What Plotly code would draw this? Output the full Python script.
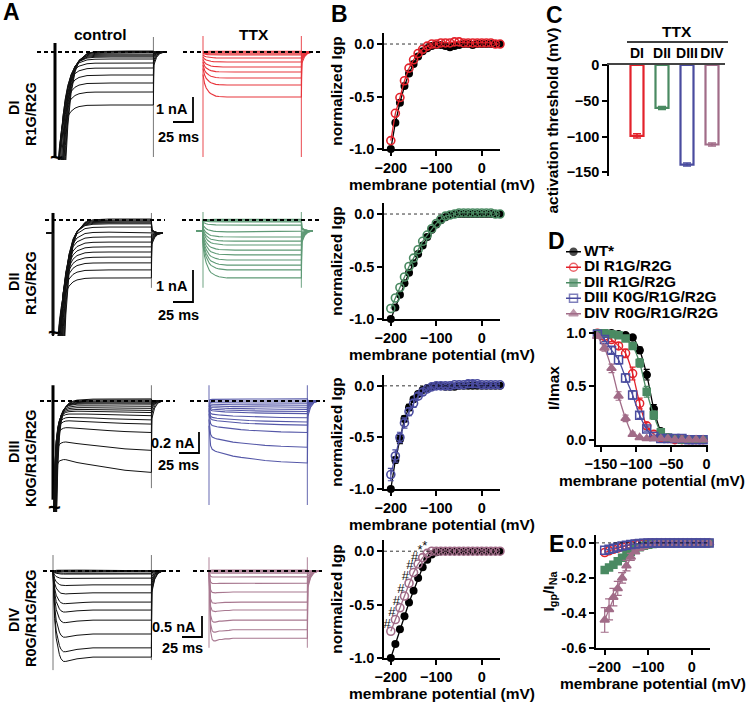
import plotly.graph_objects as go

W, H = 747, 704
FAM = "Liberation Sans, Arial, Helvetica, sans-serif"
RED, GREEN, BLUE, MAUVE = "#e3222b", "#4a8a62", "#4a4c9f", "#a16c88"
TTX_COL = ["#e8363d", "#5f9a76", "#5558a8", "#a87890"]

# ---------------- DATA ----------------
# Panel A: sweeps (nA). Steady-state level of every sweep, Na transient peak (control), shared kinetics
A_rows = ["DI", "DII", "DIII", "DIV"]
A_mut = ["R1G/R2G", "R1G/R2G", "K0G/R1G/R2G", "R0G/R1G/R2G"]
A_scale_nA = [1, 1, 0.2, 0.5]
A_scale_ms = 25
A_step_ms = 123
A_t = [0, 1, 2, 4, 6, 8, 10, 13, 16, 20, 25, 30, 40, 50, 70, 90, 123]
A_tail_t = [0, 0.5, 4, 8, 14]
A_tail_f = [1, 0.25, 0.1, 0.03, 0]
na_decay_slow = [1, 0.87, 0.75, 0.56, 0.42, 0.32, 0.24, 0.156, 0.1, 0.057, 0.028, 0.014, 0.0033, 0.0008, 0, 0, 0]
na_decay_fast = [1, 0.55, 0.32, 0.14, 0.07, 0.04, 0.025, 0.014, 0.008, 0.004, 0.002, 0.001, 0.0005, 0, 0, 0, 0]
no_decay = [0] * 17

# holding current outside the step (nA): control, TTX
hold_ctrl = [0, -0.41, 0, 0]
hold_ttx = [0, -0.34, 0, 0]

ctrl_DI_levels = [0.04, 0.02, 0.0, -0.04, -0.08, -0.12, -0.16, -0.20, -0.28, -0.44, -0.64, -0.92, -1.24, -1.60, -2.12]
ctrl_DI_peaks = [-30, -27, -24, -21, -19, -17, -15, -13, -11, -9, -8, -7, -6, -5, -4.5]
ttx_DI_levels = [0.03, 0.0, -0.04, -0.08, -0.12, -0.24, -0.40, -0.60, -0.80, -1.04, -1.32, -1.80]

ctrl_DII_levels = [0.03, 0.0, -0.03, -0.06, -0.09, -0.12, -0.22, -0.38, -0.53, -0.69, -0.84, -1.00, -1.16, -1.34, -1.56, -1.81]
ctrl_DII_peaks = [-30, -27, -24, -21, -19, -17, -15, -13, -11, -10, -9, -8, -7, -6, -5, -4.5]
ttx_DII_levels = [0.02, 0.0, -0.03, -0.06, -0.16, -0.37, -0.53, -0.66, -0.78, -0.94, -1.09, -1.25, -1.41, -1.56, -1.81]

ctrl_DIII_levels = [0.02, 0.01, 0.0, -0.01, -0.02, -0.03, -0.05, -0.07, -0.09, -0.11, -0.14, -0.18, -0.22, -0.30, -0.47, -0.68]
ctrl_DIII_peaks = [-9, -8, -7, -6, -5, -4.5, -4, -3.5, -3, -2.5, -2, -1.8, -1.6, -1.4, -1.2, -1.0]
ttx_DIII_levels = [0.02, 0.0, -0.02, -0.04, -0.06, -0.08, -0.10, -0.12, -0.16, -0.20, -0.23, -0.30, -0.44, -0.59]

ctrl_DIV_levels = [0.02, 0.0, -0.02, -0.05, -0.07, -0.17, -0.33, -0.52, -0.74, -0.93, -1.17, -1.50, -1.83, -2.05]
ctrl_DIV_peaks = [0] * 14
ttx_DIV_levels = [0.02, 0.0, -0.02, -0.05, -0.14, -0.29, -0.50, -0.74, -0.93, -1.17, -1.40, -1.60]

# fraction of steady level reached at each A_t sample
kin_ctrl_DI = [0.6, 0.8, 0.9, 0.96, 0.98, 1, 1, 1, 1, 1, 1, 1, 1, 1, 1, 1, 1]
kin_ttx_DI = [0.5, 0.62, 0.7, 0.8, 0.86, 0.9, 0.93, 0.96, 0.98, 0.99, 1, 1, 1, 1, 1, 1, 1]
kin_ctrl_DII = [0.6, 0.8, 0.9, 0.96, 0.98, 1, 1, 1, 1, 1, 1, 1, 1, 1, 1, 1, 1]
kin_ttx_DII = [0.45, 0.55, 0.63, 0.74, 0.82, 0.87, 0.91, 0.94, 0.96, 0.98, 0.99, 1, 1, 1, 1, 1, 1]
kin_ctrl_DIII = [0.3, 0.6, 0.7, 0.75, 0.77, 0.78, 0.79, 0.8, 0.81, 0.83, 0.85, 0.86, 0.88, 0.9, 0.94, 0.97, 1.0]
kin_ttx_DIII = [0.4, 0.65, 0.72, 0.78, 0.8, 0.81, 0.82, 0.83, 0.84, 0.86, 0.88, 0.89, 0.91, 0.93, 0.96, 0.98, 1.0]
kin_ctrl_DIV = [0, 0.35, 0.55, 0.78, 0.9, 0.97, 1.02, 1.05, 1.05, 1.04, 1.03, 1.02, 1.01, 1.0, 1.0, 1.0, 1.0]
kin_ttx_DIV = [0, 0.7, 0.9, 1.02, 1.04, 1.04, 1.03, 1.02, 1.02, 1.01, 1.01, 1.0, 1.0, 1.0, 1.0, 1.0, 1.0]

# capacitive artefacts at step on/off (nA extent: top, bottom)
cap_ctrl_on = [(0.36, -4.2), (0.22, -3.6), (0.15, -0.94), (0.38, -2.36)]
cap_ctrl_off = [(0.6, -4.2), (0.22, -2.12), (0.15, -0.83), (0.38, -2.12)]
cap_ttx = [(0.64, -4.2), (0.25, -2.12), (0.15, -0.99), (0.33, -1.83)]

# Panel B: normalized Igp vs membrane potential
vm_b = [-200, -190, -180, -170, -160, -150, -140, -130, -120, -110, -100, -90, -80, -70, -60,
        -50, -40, -30, -20, -10, 0, 10, 20, 30, 40]
wt_b1 = [-1.00, -0.75, -0.56, -0.40, -0.28, -0.19, -0.12, -0.07, -0.04, -0.02, -0.01, -0.01, -0.02, -0.03, -0.02,
         -0.01, 0.00, 0.00, -0.01, 0.00, 0.00, 0.00, 0.00, 0.00, 0.00]
di_b1 = [-0.92, -0.66, -0.51, -0.35, -0.23, -0.15, -0.09, -0.05, -0.02, 0.00, 0.00, 0.01, 0.01, 0.01, 0.02,
         0.02, 0.01, 0.01, 0.01, 0.01, 0.01, 0.01, 0.01, 0.00, 0.00]
wt_b2 = [-1.00, -0.89, -0.77, -0.66, -0.56, -0.47, -0.38, -0.30, -0.22, -0.15, -0.10, -0.06, -0.03, -0.01, 0.00,
         0.00, 0.00, 0.00, 0.00, 0.00, 0.00, 0.00, 0.00, 0.00, 0.00]
dii_b2 = [-0.90, -0.80, -0.70, -0.60, -0.50, -0.42, -0.34, -0.26, -0.20, -0.14, -0.09, -0.05, -0.02, -0.01, 0.00,
          0.01, 0.01, 0.01, 0.01, 0.01, 0.01, 0.01, 0.01, 0.00, 0.00]
wt_b3 = [-1.00, -0.72, -0.52, -0.32, -0.21, -0.13, -0.08, -0.04, -0.02, -0.01, 0.00, 0.00, -0.01, -0.01, -0.01,
         0.00, 0.00, 0.00, 0.00, 0.00, 0.00, 0.00, 0.00, 0.00, 0.00]
wt_b3_err = [0.0, 0.03, 0.04, 0.03, 0.03, 0.02, 0.02, 0.01, 0.01, 0.01, 0, 0, 0.01, 0.01, 0.01,
             0, 0, 0, 0, 0, 0, 0.01, 0.01, 0.01, 0.01]
diii_b3 = [-0.86, -0.68, -0.50, -0.36, -0.25, -0.17, -0.10, -0.06, -0.03, -0.01, 0.00, 0.00, 0.00, 0.00, 0.01,
           0.01, 0.01, 0.02, 0.02, 0.02, 0.01, 0.01, 0.01, 0.01, 0.01]
diii_b3_err = [0.06, 0.06, 0.05, 0.05, 0.04, 0.04, 0.03, 0.03, 0.02, 0.02, 0.02, 0.02, 0.02, 0.02, 0.02,
               0.02, 0.02, 0.03, 0.03, 0.02, 0.02, 0.02, 0.02, 0.02, 0.02]
wt_b4 = [-1.00, -0.87, -0.73, -0.61, -0.48, -0.37, -0.25, -0.15, -0.08, -0.03, -0.01, 0.00, 0.00, 0.00, 0.00,
         0.00, 0.00, 0.00, 0.00, 0.00, 0.00, 0.00, 0.00, 0.00, 0.00]
div_b4 = [-0.75, -0.64, -0.53, -0.42, -0.30, -0.20, -0.12, -0.06, -0.02, 0.00, 0.00, 0.00, 0.00, 0.00, 0.00,
          0.00, 0.00, 0.00, 0.00, 0.00, 0.00, 0.00, 0.00, 0.00, 0.00]
div_b4_sig = ["#", "#", "#", "#", "#", "#", "#", "*", "*", "", "", "", "", "", "",
              "", "", "", "", "", "", "", "", "", ""]

# Panel C: activation threshold (mV)
c_labels = ["DI", "DII", "DIII", "DIV"]
c_vals = [-99, -60, -139, -111]
c_err = [3, 2, 2, 2]

# Panel D: I/Imax
vm_d = [-155, -145, -135, -125, -115, -105, -95, -85, -75, -65, -55, -45, -35, -25, -15, -5]
wt_d = [1.00, 1.00, 1.00, 0.99, 0.98, 0.96, 0.84, 0.61, 0.29, 0.08, 0.02, 0.01, 0.00, 0.00, 0.00, 0.00]
wt_d_err = [0, 0, 0, 0, 0, 0.01, 0.03, 0.05, 0.04, 0.02, 0.01, 0, 0, 0, 0, 0]
di_d = [1.00, 0.97, 0.94, 0.88, 0.81, 0.62, 0.34, 0.13, 0.05, 0.02, 0.01, 0.00, 0.00, 0.00, 0.00, 0.00]
di_d_err = [0, 0.01, 0.02, 0.03, 0.04, 0.06, 0.05, 0.03, 0.02, 0.01, 0, 0, 0, 0, 0, 0]
dii_d = [1.00, 1.00, 0.99, 0.98, 0.95, 0.88, 0.72, 0.45, 0.23, 0.07, 0.02, 0.01, 0.00, 0.00, 0.00, 0.00]
dii_d_err = [0, 0, 0, 0.01, 0.02, 0.03, 0.04, 0.05, 0.04, 0.02, 0.01, 0, 0, 0, 0, 0]
diii_d = [0.99, 0.94, 0.84, 0.75, 0.58, 0.42, 0.23, 0.10, 0.03, 0.01, 0.01, 0.01, 0.01, 0.00, 0.00, 0.00]
diii_d_err = [0.01, 0.02, 0.03, 0.04, 0.04, 0.04, 0.03, 0.02, 0.01, 0, 0, 0, 0, 0, 0, 0]
div_d = [0.97, 0.86, 0.67, 0.41, 0.20, 0.05, 0.02, 0.01, 0.01, 0.01, 0.01, 0.00, 0.00, 0.00, 0.00, 0.00]
div_d_err = [0.02, 0.03, 0.04, 0.04, 0.03, 0.02, 0.01, 0, 0, 0, 0, 0, 0, 0, 0, 0]
legend_d = ["WT*", "DI R1G/R2G", "DII R1G/R2G", "DIII K0G/R1G/R2G", "DIV R0G/R1G/R2G"]

# Panel E: Igp / INa
vm_e = vm_b
di_e = [-0.055, -0.045, -0.037, -0.030, -0.022, -0.016, -0.011, -0.007, -0.005, -0.003, -0.002, -0.001, 0, 0, 0,
        0, 0, 0, 0, 0, 0, 0, 0, 0, 0]
dii_e = [-0.155, -0.140, -0.125, -0.105, -0.085, -0.065, -0.050, -0.035, -0.025, -0.016, -0.010, -0.007, -0.005,
         -0.003, -0.002, -0.001, 0, 0, 0, 0, 0, 0, 0, 0, 0]
diii_e = [-0.042, -0.036, -0.030, -0.024, -0.018, -0.013, -0.009, -0.006, -0.004, -0.002, -0.001, 0, 0, 0, 0,
          0, 0, 0, 0, 0, 0, 0, 0, 0, 0]
div_e = [-0.44, -0.38, -0.31, -0.26, -0.20, -0.13, -0.08, -0.05, -0.03, -0.02, -0.01, -0.005, 0, 0, 0,
         0, 0, 0, 0, 0, 0, 0, 0, 0, 0]
div_e_err = [0.07, 0.06, 0.05, 0.04, 0.03, 0.03, 0.02, 0.01, 0.01, 0, 0, 0, 0, 0, 0,
             0, 0, 0, 0, 0, 0, 0, 0, 0, 0]

# ---------------- LAYOUT HELPERS ----------------
def dom_x(a, b):
    return [a / W, b / W]


def dom_y(top, bot):
    return [1 - bot / H, 1 - top / H]


def ids(i):
    return ("x" if i == 1 else f"x{i}", "y" if i == 1 else f"y{i}")


def keys(i):
    return ("xaxis" if i == 1 else f"xaxis{i}", "yaxis" if i == 1 else f"yaxis{i}")


def f_(size):
    return dict(family=FAM, size=size, color="black", weight="bold")


def ax_style(**kw):
    d = dict(showline=True, linecolor="black", linewidth=1.6, ticks="outside", ticklen=5,
             tickwidth=1.5, tickcolor="black", showgrid=False, zeroline=False, automargin=False,
             tickfont=f_(14.5), mirror=False)
    d.update(kw)
    return d


fig = go.Figure()
lay = dict(width=W, height=H, margin=dict(l=0, r=0, t=0, b=0), template="none",
           paper_bgcolor="white", plot_bgcolor="rgba(0,0,0,0)", showlegend=False,
           font=dict(family=FAM, color="black"), barmode="overlay")
annots = []
shapes = []


def ann(text, px, py, size, angle=0, xanchor="center", yanchor="middle", color="black"):
    annots.append(dict(text=text, x=px / W, y=1 - py / H, xref="paper", yref="paper", showarrow=False,
                       font=dict(family=FAM, size=size, color=color, weight="bold"), textangle=angle,
                       xanchor=xanchor, yanchor=yanchor))


# ---------------- PANEL A ----------------
PX_PER_MS = 0.8
A_GEOM = [
    dict(y0=52, ppn=25, top=28, bot=160, xc=55, xt=203, dc=(37, 170), dt=(183, 320), bar=(193, 122),
         tilde=(56, 157), lab=(108, 114), nad=(-3, 0), msd=(-15, 15)),
    dict(y0=220, ppn=32, top=198, bot=336, xc=53, xt=203, dc=(45, 165), dt=(182, 320), bar=(193, 302),
         tilde=(54, 332), lab=(282, 283), nad=(-3, 0), msd=(-15, 13)),
    dict(y0=401, ppn=105, top=372, bot=512, xc=53, xt=209, dc=(40, 175), dt=(190, 325), bar=(199, 453),
         tilde=(54, 507), lab=(452, 458), nad=(-2, 0), msd=(-21, 12)),
    dict(y0=571, ppn=42, top=545, bot=682, xc=53, xt=209, dc=(43, 180), dt=(193, 322), bar=(202, 637),
         tilde=None, lab=(620, 618), nad=(-4, 0), msd=(-20, 11)),
]
ctrl_levels = [ctrl_DI_levels, ctrl_DII_levels, ctrl_DIII_levels, ctrl_DIV_levels]
ctrl_peaks = [ctrl_DI_peaks, ctrl_DII_peaks, ctrl_DIII_peaks, ctrl_DIV_peaks]
ctrl_decay = [na_decay_slow, na_decay_slow, na_decay_fast, no_decay]
ttx_levels = [ttx_DI_levels, ttx_DII_levels, ttx_DIII_levels, ttx_DIV_levels]
kin_ctrl = [kin_ctrl_DI, kin_ctrl_DII, kin_ctrl_DIII, kin_ctrl_DIV]
kin_ttx = [kin_ttx_DI, kin_ttx_DII, kin_ttx_DIII, kin_ttx_DIV]


def sweeps(levels, peaks, kin, dec, hold):
    xs, ys = [], []
    for lev, pk in zip(levels, peaks):
        if hold != 0:
            xs += [-8, 0]
            ys += [hold, hold]
        for t, k, g in zip(A_t, kin, dec):
            xs.append(t)
            ys.append(lev * k + pk * g)
        for dt_, tf in zip(A_tail_t, A_tail_f):
            xs.append(A_step_ms + dt_)
            ys.append(hold + (lev - hold) * tf)
        xs.append(None)
        ys.append(None)
    return xs, ys


for r, g in enumerate(A_GEOM):
    for c in range(2):
        i = 2 * r + c + 1
        xa, ya = ids(i)
        kx, ky = keys(i)
        x0 = g["xc"] if c == 0 else g["xt"]
        dl, dr = (20, 215) if c == 0 else (178, 335)
        lay[kx] = dict(domain=dom_x(dl, dr), range=[(dl - x0) / PX_PER_MS, (dr - x0) / PX_PER_MS],
                       visible=False, anchor=ya, automargin=False)
        lay[ky] = dict(domain=dom_y(g["top"], g["bot"]),
                       range=[(g["y0"] - g["bot"]) / g["ppn"], (g["y0"] - g["top"]) / g["ppn"]],
                       visible=False, anchor=xa, automargin=False)
        if c == 0:
            on, off = cap_ctrl_on[r], cap_ctrl_off[r]
            lw_on = 3 if r < 3 else 1
            col_on = "black" if r < 3 else "#777777"
            fig.add_trace(go.Scatter(x=[A_step_ms, A_step_ms], y=list(off), mode="lines",
                                     line=dict(color="#777777", width=1), xaxis=xa, yaxis=ya))
            fig.add_trace(go.Scatter(x=[0, 0], y=list(on), mode="lines",
                                     line=dict(color=col_on, width=lw_on), xaxis=xa, yaxis=ya))
            xs, ys = sweeps(ctrl_levels[r], ctrl_peaks[r], kin_ctrl[r], ctrl_decay[r], hold_ctrl[r])
            fig.add_trace(go.Scatter(x=xs, y=ys, mode="lines", line=dict(color="#111111", width=1.0),
                                     xaxis=xa, yaxis=ya))
            d0, d1 = g["dc"]
        else:
            cp = cap_ttx[r]
            fig.add_trace(go.Scatter(x=[0, 0, None, A_step_ms, A_step_ms], y=[cp[0], cp[1], None, cp[0], cp[1]],
                                     mode="lines", line=dict(color=TTX_COL[r], width=1.2), opacity=0.75,
                                     xaxis=xa, yaxis=ya))
            xs, ys = sweeps(ttx_levels[r], [0] * len(ttx_levels[r]), kin_ttx[r], no_decay, hold_ttx[r])
            fig.add_trace(go.Scatter(x=xs, y=ys, mode="lines", line=dict(color=TTX_COL[r], width=1.1),
                                     xaxis=xa, yaxis=ya))
            d0, d1 = g["dt"]
        fig.add_trace(go.Scatter(x=[(d0 - x0) / PX_PER_MS, (d1 - x0) / PX_PER_MS], y=[0, 0], mode="lines",
                                 line=dict(color="black", width=2, dash="4px,3px"), xaxis=xa, yaxis=ya))
        if c == 0:
            bx, bb = g["bar"]
            tb = (bx - x0) / PX_PER_MS
            yb = (g["y0"] - bb) / g["ppn"]
            s = A_scale_nA[r]
            fig.add_trace(go.Scatter(x=[tb - A_scale_ms, tb, tb], y=[yb, yb, yb + s], mode="lines",
                                     line=dict(color="black", width=1.8), xaxis=xa, yaxis=ya))
            ppn = g["ppn"]
            ann(f"{A_scale_nA[r]:g} nA", bx + g["nad"][0], bb - s * ppn / 2, 14.5, xanchor="right")
            ann(f"{A_scale_ms} ms", bx + g["msd"][0], bb + g["msd"][1], 14.5)
    if g["tilde"]:
        ann("~", g["tilde"][0], g["tilde"][1], 22)
    ann(A_rows[r], 14, g["lab"][0], 14.5, angle=-90)
    ann(A_mut[r], 31, g["lab"][1], 14.5, angle=-90)

ann("control", 100, 35, 15.5)
ann("TTX", 254, 35, 15.5)

# ---------------- PANEL B ----------------
B_GEOM = [(33, 149), (203, 319), (375, 489), (540, 658)]
B_mut = [(di_b1, RED, None, None), (dii_b2, GREEN, None, None),
         (diii_b3, BLUE, diii_b3_err, wt_b3_err), (div_b4, MAUVE, None, None)]
B_wt = [wt_b1, wt_b2, wt_b3, wt_b4]
for k, (top, bot) in enumerate(B_GEOM):
    i = 9 + k
    xa, ya = ids(i)
    kx, ky = keys(i)
    lay[kx] = ax_style(domain=dom_x(384, 500), range=[-215, 40], tickvals=[-200, -100, 0], anchor=ya,
                       title=dict(text="membrane potential (mV)", font=f_(15.5), standoff=2))
    lay[ky] = ax_style(domain=dom_y(top, bot), range=[-1.0, 0.105], tickvals=[-1, -0.5, 0],
                       ticktext=["-1.0", "-0.5", "0.0"], anchor=xa,
                       title=dict(text="normalized Igp", font=f_(15.5), standoff=3))
    shapes.append(dict(type="line", xref=f"{xa} domain", yref=ya, x0=0, x1=1, y0=0, y1=0,
                       line=dict(color="black", width=0.8, dash="dot")))
    mut, col, merr, werr = B_mut[k]
    fig.add_trace(go.Scatter(x=vm_b, y=B_wt[k], mode="lines+markers", cliponaxis=False,
                             line=dict(color="black", width=1.3),
                             marker=dict(symbol="circle", size=8, color="black"),
                             error_y=dict(type="data", array=werr, color="black", thickness=1.2, width=3,
                                          visible=werr is not None),
                             xaxis=xa, yaxis=ya))
    fig.add_trace(go.Scatter(x=vm_b, y=mut, mode="lines+markers", cliponaxis=False,
                             line=dict(color=col, width=1.3),
                             marker=dict(symbol="circle-open", size=8, color=col, line=dict(width=1.6)),
                             error_y=dict(type="data", array=merr, color=col, thickness=1.2, width=3,
                                          visible=merr is not None),
                             xaxis=xa, yaxis=ya))
    if k == 3:
        sx = [v for v, s_ in zip(vm_b, div_b4_sig) if s_]
        sy = [v for v, s_ in zip(div_b4, div_b4_sig) if s_]
        st = [s_ for s_ in div_b4_sig if s_]
        fig.add_trace(go.Scatter(x=sx, y=sy, mode="text", text=st, textposition="top left",
                                 textfont=dict(family=FAM, size=13, color="#111111"), cliponaxis=False,
                                 xaxis=xa, yaxis=ya))

# ---------------- PANEL C ----------------
i = 13
xa, ya = ids(i)
kx, ky = keys(i)
lay[kx] = ax_style(domain=dom_x(609, 725), type="category", range=[-1.12, 3.52], side="top", anchor=ya,
                   ticks="", linecolor="#444444", tickfont=f_(14), tickangle=0, categoryorder="array",
                   categoryarray=c_labels)
lay[ky] = ax_style(domain=dom_y(65, 176), range=[-155, 0], tickvals=[0, -50, -100, -150], anchor=xa,
                   title=dict(text="activation threshold (mV)", font=f_(15.5), standoff=4))
for lab, v, e, col in zip(c_labels, c_vals, c_err, [RED, GREEN, BLUE, MAUVE]):
    fig.add_trace(go.Bar(x=[lab], y=[v], width=0.52, marker=dict(color="rgba(255,255,255,0)",
                                                                  line=dict(color=col, width=2.2)),
                         error_y=dict(type="data", array=[e], color=col, thickness=1.5, width=4),
                         xaxis=xa, yaxis=ya))
ann("TTX", 677, 31, 15.5)
shapes.append(dict(type="line", xref="paper", yref="paper", x0=627 / W, x1=728 / W, y0=1 - 42 / H,
                   y1=1 - 42 / H, line=dict(color="black", width=1.6)))

# ---------------- PANEL D ----------------
i = 14
xa, ya = ids(i)
kx, ky = keys(i)
lay[kx] = ax_style(domain=dom_x(596, 708), range=[-157, 2], tickvals=[-150, -100, -50, 0], anchor=ya,
                   title=dict(text="membrane potential (mV)", font=f_(15.5), standoff=2))
lay[ky] = ax_style(domain=dom_y(331, 445), range=[-0.05, 1.02], tickvals=[0, 0.5, 1.0],
                   ticktext=["0.0", "0.5", "1.0"], anchor=xa,
                   title=dict(text="I/Imax", font=f_(15.5), standoff=3))
D_series = [(wt_d, wt_d_err, "black", "circle", 7),
            (di_d, di_d_err, RED, "circle-open", 8),
            (dii_d, dii_d_err, GREEN, "square", 7),
            (diii_d, diii_d_err, BLUE, "square-open", 8),
            (div_d, div_d_err, MAUVE, "triangle-up", 8)]
for ys_, err, col, sym, sz in D_series:
    fig.add_trace(go.Scatter(x=vm_d, y=ys_, mode="lines+markers", cliponaxis=False,
                             line=dict(color=col, width=1.3, shape="spline", smoothing=0.8),
                             marker=dict(symbol=sym, size=sz, color=col, line=dict(width=1.5, color=col)),
                             error_y=dict(type="data", array=err, color=col, thickness=1.2, width=3),
                             xaxis=xa, yaxis=ya))

# legend (manual, panel D)
i = 15
xa, ya = ids(i)
kx, ky = keys(i)
lay[kx] = dict(domain=dom_x(560, 745), range=[0, 1], visible=False, anchor=ya, automargin=False)
lay[ky] = dict(domain=dom_y(244, 321.5), range=[4.5, -0.5], visible=False, anchor=xa, automargin=False)
sx0, sxm, sx1, tx = (566 - 560) / 185, (573.5 - 560) / 185, (581 - 560) / 185, (584 - 560) / 185
for row, ((ys_, err, col, sym, sz), lab) in enumerate(zip(D_series, legend_d)):
    fig.add_trace(go.Scatter(x=[sx0, sxm, sx1], y=[row, row, row], mode="lines+markers",
                             line=dict(color=col, width=1.5),
                             marker=dict(symbol=sym, size=[0, sz, 0], color=col, line=dict(width=1.5, color=col)),
                             xaxis=xa, yaxis=ya, cliponaxis=False))
    fig.add_trace(go.Scatter(x=[tx], y=[row], mode="text", text=[lab], textposition="middle right",
                             textfont=f_(15.5), xaxis=xa, yaxis=ya, cliponaxis=False))

# ---------------- PANEL E ----------------
i = 16
xa, ya = ids(i)
kx, ky = keys(i)
lay[kx] = ax_style(domain=dom_x(596, 710), range=[-220, 42], tickvals=[-200, -100, 0], anchor=ya,
                   title=dict(text="membrane potential (mV)", font=f_(15.5), standoff=2))
lay[ky] = ax_style(domain=dom_y(535, 648), range=[-0.6, 0.045], tickvals=[0, -0.2, -0.4, -0.6],
                   ticktext=["0.0", "-0.2", "-0.4", "-0.6"], anchor=xa,
                   title=dict(text="I<sub>gp</sub>/I<sub>Na</sub>", font=f_(15.5), standoff=3))
shapes.append(dict(type="line", xref=f"{xa} domain", yref=ya, x0=0, x1=1, y0=0, y1=0,
                   line=dict(color="black", width=0.8, dash="dot")))
E_series = [(di_e, None, RED, "circle-open", 8),
            (dii_e, None, GREEN, "square", 7),
            (div_e, div_e_err, MAUVE, "triangle-up", 8),
            (diii_e, None, BLUE, "square-open", 8)]
for ys_, err, col, sym, sz in E_series:
    fig.add_trace(go.Scatter(x=vm_e, y=ys_, mode="lines+markers", cliponaxis=False,
                             line=dict(color=col, width=1.2),
                             marker=dict(symbol=sym, size=sz, color=col, line=dict(width=1.5, color=col)),
                             error_y=dict(type="data", array=err, color=col, thickness=1.2, width=4,
                                          visible=err is not None),
                             xaxis=xa, yaxis=ya))

# panel letters
for letter, px, py in [("A", 11, 12), ("B", 339, 14), ("C", 554, 15), ("D", 556, 241), ("E", 556, 544)]:
    ann(letter, px, py, 23)

lay["annotations"] = annots
lay["shapes"] = shapes
fig.update_layout(**lay)
fig.write_html("out.html", config={"displayModeBar": False},
               post_script="document.body.style.margin='0px';document.body.style.overflow='hidden';")
